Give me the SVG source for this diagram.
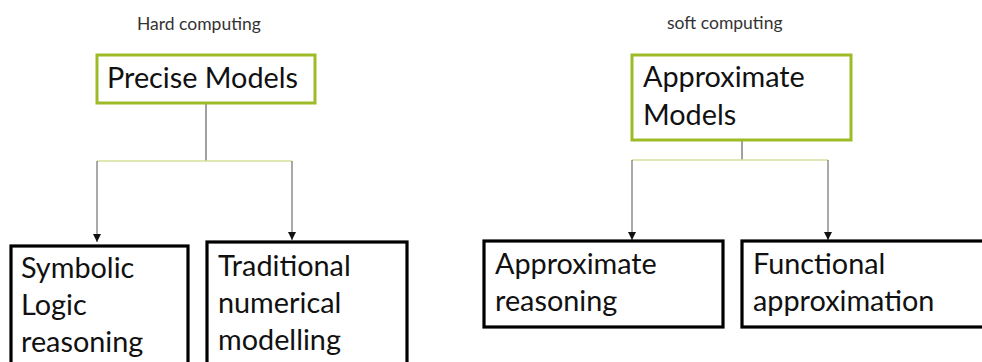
<svg xmlns="http://www.w3.org/2000/svg" width="982" height="362" viewBox="0 0 982 362">
  <style>
    text { font-family: Lato, "Open Sans", sans-serif; fill: #111; }
    .cap { font-size: 17.5px; fill: #333; }
    .big { font-size: 28.8px; }
    .root { fill: #fff; stroke: #9cbb26; stroke-width: 3; }
    .leaf { fill: #fff; stroke: #000; stroke-width: 3.2; }
    .stem { stroke: #6e6e6e; stroke-width: 1.3; fill: none; }
    .bar { stroke: #d2e09a; stroke-width: 1.3; fill: none; }
    .drop { stroke: #555; stroke-width: 1; fill: none; marker-end: url(#tip); }
  </style>
  <defs>
    <marker id="tip" viewBox="0 0 10 10" refX="10" refY="5" markerWidth="8" markerHeight="8" markerUnits="userSpaceOnUse" orient="auto">
      <path d="M0,0 L10,5 L0,10 z" fill="#111"/>
    </marker>
  </defs>
  <rect width="982" height="362" fill="#fff"/>

  <text class="cap" x="137" y="30">Hard computing</text>
  <text class="cap" x="667" y="29">soft computing</text>

  <g id="connectors">
    <line class="stem" x1="206" y1="103" x2="206" y2="161"/>
    <line class="bar" x1="97" y1="161" x2="292" y2="161"/>
    <line class="drop" x1="97" y1="161" x2="97" y2="242"/>
    <line class="drop" x1="292" y1="161" x2="292" y2="240"/>
    <line class="stem" x1="742" y1="140" x2="742" y2="160"/>
    <line class="bar" x1="632" y1="160" x2="828" y2="160"/>
    <line class="drop" x1="632" y1="160" x2="632" y2="240"/>
    <line class="drop" x1="828" y1="160" x2="828" y2="240"/>
  </g>

  <g id="precise-models">
    <rect class="root" x="97" y="55" width="218" height="48"/>
    <text class="big" x="107" y="88">Precise Models</text>
  </g>

  <g id="approximate-models">
    <rect class="root" x="632" y="55" width="219" height="85"/>
    <text class="big" x="643" y="87">Approximate</text>
    <text class="big" x="643" y="125">Models</text>
  </g>

  <g id="symbolic-logic">
    <rect class="leaf" x="11" y="246" width="177" height="130"/>
    <text class="big" x="21" y="278">Symbolic</text>
    <text class="big" x="21" y="315">Logic</text>
    <text class="big" x="21" y="352">reasoning</text>
  </g>

  <g id="traditional-numerical">
    <rect class="leaf" x="207" y="242" width="200" height="134"/>
    <text class="big" x="218" y="276">Traditional</text>
    <text class="big" x="218" y="313">numerical</text>
    <text class="big" x="218" y="350">modelling</text>
  </g>

  <g id="approximate-reasoning">
    <rect class="leaf" x="484" y="241" width="239" height="86"/>
    <text class="big" x="495" y="274">Approximate</text>
    <text class="big" x="495" y="311">reasoning</text>
  </g>

  <g id="functional-approximation">
    <rect class="leaf" x="742" y="241" width="260" height="86"/>
    <text class="big" x="753" y="274">Functional</text>
    <text class="big" x="753" y="311">approximation</text>
  </g>
</svg>
